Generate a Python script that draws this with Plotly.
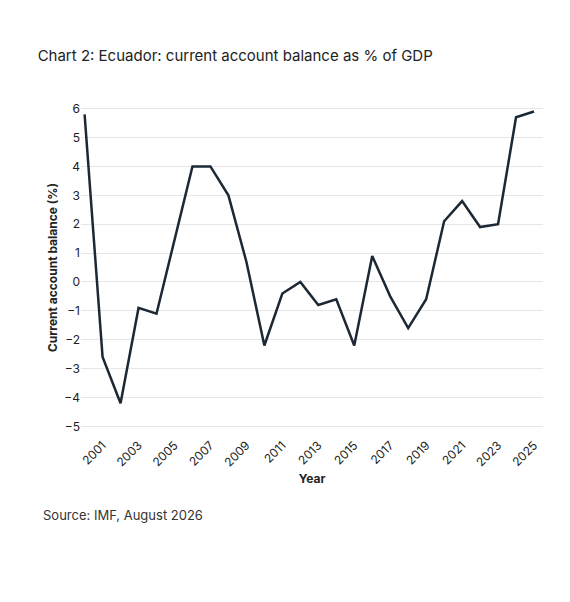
import plotly.graph_objects as go

years = list(range(2000, 2026))
balance = [5.8, -2.6, -4.2, -0.9, -1.1, 1.4, 4.0, 4.0, 3.0, 0.7, -2.2, -0.4, 0.0, -0.8, -0.6, -2.2,
           0.9, -0.5, -1.6, -0.6, 2.1, 2.8, 1.9, 2.0, 5.7, 5.9]
xticks = list(range(2001, 2026, 2))
yticks = list(range(-5, 7))

fig = go.Figure(go.Scatter(x=years, y=balance, mode="lines",
                           line=dict(color="#1c2833", width=2.5), showlegend=False))
fig.update_layout(
    width=570, height=602, plot_bgcolor="white", paper_bgcolor="white",
    font=dict(family="Inter, Lato, sans-serif", color="#222"),
    margin=dict(l=73, r=35, t=92, b=175),
    title=dict(text="Chart 2: Ecuador: current account balance as % of GDP",
               x=0.052, xanchor="left", y=0.93, font=dict(size=15, color="#222")),
    xaxis=dict(tickvals=xticks, tickangle=-45, showgrid=False, range=[1999.8, 2025.5],
               title=dict(text="<b>Year</b>", font=dict(size=12), standoff=6), tickfont=dict(size=12),
               ticks="", showline=False),
    yaxis=dict(tickvals=yticks, range=[-5.3, 6.3], gridcolor="#e6e6e6", zeroline=False,
               title=dict(text="<b>Current account balance (%)</b>", font=dict(size=12), standoff=4),
               tickfont=dict(size=12)),
    annotations=[dict(text="Source: IMF, August 2026", xref="paper", yref="paper",
                      x=-0.087, y=-0.27, xanchor="left", showarrow=False,
                      font=dict(size=13, color="#333"))],
)
fig.write_html("out.html")
